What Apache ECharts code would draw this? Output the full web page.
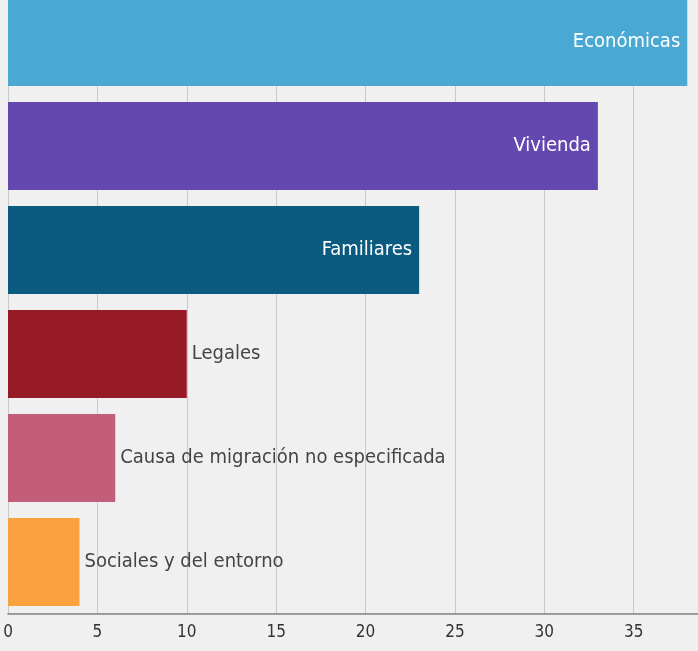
<!DOCTYPE html>
<html>
<head>
<meta charset="utf-8">
<script src="https://cdn.jsdelivr.net/npm/echarts@6/dist/echarts.min.js"></script>
<style>
  html, body { margin: 0; padding: 0; background: #f0f0f0; overflow: hidden; }
  /* chart starts above the viewport: the top bar is cut off in the original */
  #container { width: 698px; height: 661px; margin-top: -10px; }
</style>
</head>
<body>
<div id="container"></div>
<script>
var categories = ['Económicas', 'Vivienda', 'Familiares', 'Legales', 'Causa de migración no especificada', 'Sociales y del entorno'];
var values = [38, 33, 23, 10, 6, 4];
var colors = ['#4aa9d3', '#6448b0', '#0b5a80', '#971a27', '#c25d7a', '#f9a23f'];
var insideLabel = [true, true, true, false, false, false];
var xTicks = [0, 5, 10, 15, 20, 25, 30, 35];

var dom = document.getElementById('container');
var myChart = echarts.init(dom);

var data = values.map(function (v, i) {
  return {
    value: v,
    itemStyle: { color: colors[i] },
    label: insideLabel[i]
      ? { position: 'insideRight', color: '#ffffff', distance: 7 }
      : { position: 'right', color: '#444444', distance: 5 }
  };
});

var option = {
  backgroundColor: '#f0f0f0',
  animation: false,
  grid: { left: 8, right: 0, top: 0, bottom: 37 },
  xAxis: {
    type: 'value',
    min: 0,
    max: 38.6,
    interval: 5,
    axisLine: { show: true, lineStyle: { color: '#808080', width: 1.5 } },
    axisTick: { show: false },
    axisLabel: {
      color: '#333333',
      fontSize: 17,
      fontFamily: 'DejaVu Sans Condensed',
      margin: 10,
      showMaxLabel: false,
      formatter: function (v) { return xTicks.indexOf(v) >= 0 ? String(v) : ''; }
    },
    splitLine: { show: true, lineStyle: { color: '#c9c9c9', width: 1 } }
  },
  yAxis: {
    type: 'category',
    inverse: true,
    data: categories,
    axisLine: { show: false },
    axisTick: { show: false },
    axisLabel: { show: false }
  },
  series: [{
    type: 'bar',
    data: data,
    barWidth: 88,
    label: {
      show: true,
      fontSize: 20,
      fontFamily: 'DejaVu Sans Condensed',
      formatter: function (p) { return p.name; }
    }
  }]
};

myChart.setOption(option);
window.onresize = function () {
  myChart.resize();
};
</script>
</body>
</html>
